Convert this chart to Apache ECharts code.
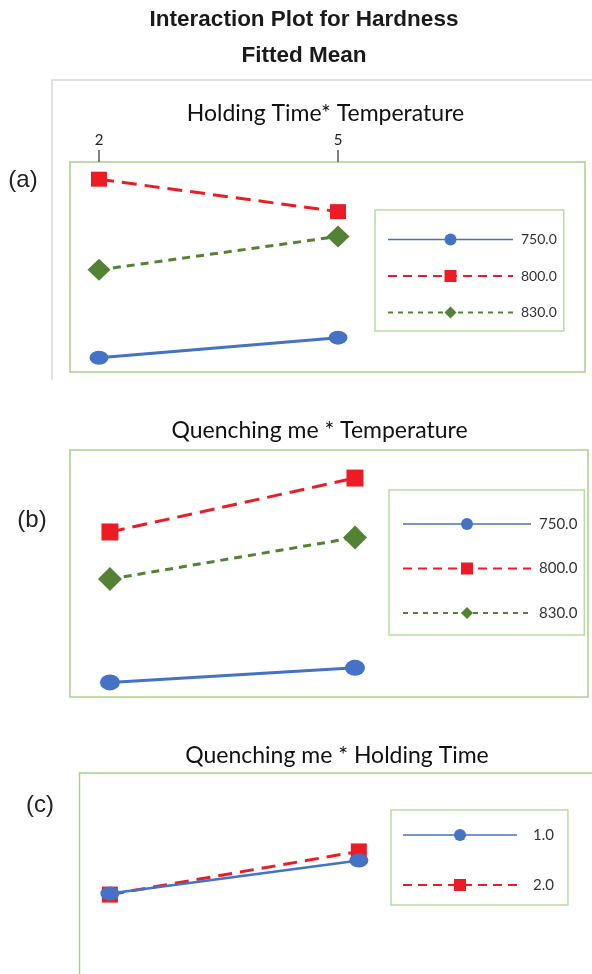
<!DOCTYPE html>
<html>
<head>
<meta charset="utf-8">
<script src="https://cdn.jsdelivr.net/npm/echarts@6/dist/echarts.min.js"></script>
<style>html,body{margin:0;padding:0;background:#fff;}#main{width:592px;height:974px;}</style>
</head>
<body>
<div id="main"></div>
<script>
// ---- data (y units arbitrary fitted-mean scale) ----
const holdingTimes = [2, 5];
const quenchMedia = [1, 2];
const temperatureNames = ['750.0', '800.0', '830.0'];
const holdingNames = ['1.0', '2.0'];
const holdingTickLabels = [2, 5];

// (a) Holding Time * Temperature
const htTemp750 = [41.5, 43.6];
const htTemp800 = [60.2, 56.8];
const htTemp830 = [50.7, 54.2];
// (b) Quenching me * Temperature
const qmTemp750 = [41.3, 42.6];
const qmTemp800 = [54.7, 59.5];
const qmTemp830 = [50.5, 54.2];
// (c) Quenching me * Holding Time
const qmHold1 = [51.4, 54.3];
const qmHold2 = [51.3, 55.1];

const BLUE = '#4472c4', RED = '#ed1c24', GREEN = '#548235';
const FRAME = '#a9d18e', LEGBORDER = '#b9dca2';
const CAL = 'Lato, "Noto Sans", sans-serif';
const ELLIPSE = 'path://M0,7A9.5,7,0,1,0,19,7A9.5,7,0,1,0,0,7Z';

function pts(xs, ys) { return xs.map((x, i) => [x, ys[i]]); }

const styles = {
  '750.0': { symbol: ELLIPSE, color: BLUE, line: { type: 'solid', width: 3 }, leg: { type: 'solid', width: 1.5 } },
  '800.0': { symbol: 'rect', color: RED, line: { type: [15, 8], width: 3 }, leg: { type: [9, 6], width: 2 } },
  '830.0': { symbol: 'diamond', color: GREEN, line: { type: [8, 6], width: 3 }, leg: { type: [5, 5], width: 2 } },
  '1.0': { symbol: ELLIPSE, color: BLUE, line: { type: 'solid', width: 2.5 }, leg: { type: 'solid', width: 1.5 } },
  '2.0': { symbol: 'rect', color: RED, line: { type: [14, 8], width: 3 }, leg: { type: [9, 6], width: 2 } }
};

function mkSeries(name, idx, xs, ys, size) {
  const s = styles[name];
  return {
    type: 'line', name: name, xAxisIndex: idx, yAxisIndex: idx,
    data: pts(xs, ys),
    symbol: s.symbol, symbolSize: size, symbolKeepAspect: false,
    lineStyle: { color: s.color, width: s.line.width, type: s.line.type },
    itemStyle: { color: s.color },
    silent: true, animation: false
  };
}

function legendData(names) {
  return names.map(n => ({ name: n, lineStyle: { color: styles[n].color, width: styles[n].leg.width, type: styles[n].leg.type } }));
}

const chart = echarts.init(document.getElementById('main'), null, { renderer: 'canvas' });

function txt(text, x, y, font, fill) {
  return { type: 'text', x: x, y: y, silent: true,
    style: { text: text, font: font, fill: fill || '#222', textAlign: 'center', align: 'center', textVerticalAlign: 'middle', verticalAlign: 'middle' } };
}

const option = {
  backgroundColor: '#ffffff',
  animation: false,
  grid: [
    { left: 70, top: 162, width: 515, height: 210, show: true, borderColor: FRAME, borderWidth: 1.5, containLabel: false, outerBoundsMode: 'none' },
    { left: 70, top: 450, width: 518, height: 247, show: true, borderColor: FRAME, borderWidth: 1.5, containLabel: false, outerBoundsMode: 'none' },
    { left: 79.5, top: 773, width: 540, height: 250, show: true, borderColor: FRAME, borderWidth: 1.5, containLabel: false, outerBoundsMode: 'none' }
  ],
  xAxis: [
    { type: 'value', gridIndex: 0, position: 'top', min: 1.636, max: 8.10,
      axisLine: { show: false }, splitLine: { show: false },
      axisTick: { show: true, customValues: holdingTickLabels, length: 12, inside: false, lineStyle: { color: '#7f7f7f', width: 2 } },
      axisLabel: { show: true, customValues: holdingTickLabels, margin: 14, color: '#222', fontFamily: CAL, fontSize: 15 } },
    { type: 'value', gridIndex: 1, min: 0.837, max: 2.951, show: false },
    { type: 'value', gridIndex: 2, min: 0.878, max: 3.047, show: false }
  ],
  yAxis: [
    { type: 'value', gridIndex: 0, min: 40, max: 62, show: false },
    { type: 'value', gridIndex: 1, min: 40, max: 62, show: false },
    { type: 'value', gridIndex: 2, min: 40, max: 62, show: false }
  ],
  legend: [
    { orient: 'vertical', left: 375, top: 210, padding: [22.5, 7, 11.5, 12], itemWidth: 125, itemHeight: 15, itemGap: 22.5,
      borderColor: LEGBORDER, borderWidth: 1.5, selectedMode: false, symbolKeepAspect: true, data: legendData(temperatureNames),
      textStyle: { fontFamily: CAL, fontSize: 14, color: '#333', padding: [0, 0, 0, 3] } },
    { orient: 'vertical', left: 389, top: 490, padding: [26.5, 7, 14.5, 13], itemWidth: 128, itemHeight: 15, itemGap: 29.5,
      borderColor: LEGBORDER, borderWidth: 1.5, selectedMode: false, symbolKeepAspect: true, data: legendData(temperatureNames),
      textStyle: { fontFamily: CAL, fontSize: 15, color: '#333', padding: [0, 0, 0, 3] } },
    { orient: 'vertical', left: 391, top: 810, padding: [17.5, 14, 12.5, 11], itemWidth: 114, itemHeight: 15, itemGap: 35,
      borderColor: LEGBORDER, borderWidth: 1.5, selectedMode: false, symbolKeepAspect: true, data: legendData(holdingNames),
      textStyle: { fontFamily: CAL, fontSize: 15, color: '#333', padding: [0, 0, 0, 11] } }
  ],
  series: [
    mkSeries('750.0', 0, holdingTimes, htTemp750, [19, 14]),
    mkSeries('800.0', 0, holdingTimes, htTemp800, [16, 15]),
    mkSeries('830.0', 0, holdingTimes, htTemp830, [23, 22]),
    mkSeries('750.0', 1, quenchMedia, qmTemp750, [20, 16]),
    mkSeries('800.0', 1, quenchMedia, qmTemp800, [17, 17]),
    mkSeries('830.0', 1, quenchMedia, qmTemp830, [24, 24]),
    mkSeries('2.0', 2, quenchMedia, qmHold2, [16, 16]),
    mkSeries('1.0', 2, quenchMedia, qmHold1, [19, 14])
  ],
  graphic: [
    { type: 'polyline', silent: true, shape: { points: [[52, 380], [52, 80], [592, 80]] }, style: { stroke: '#d6d6d6', lineWidth: 1.5, fill: null } },
    txt('Interaction Plot for Hardness', 304, 20, 'bold 22.5px "Liberation Sans", Arial, sans-serif', '#1a1a1a'),
    txt('Fitted Mean', 304, 56, 'bold 22.5px "Liberation Sans", Arial, sans-serif', '#1a1a1a'),
    txt('Holding Time* Temperature', 325.5, 114, '23px Lato, "Noto Sans", sans-serif', '#111'),
    txt('Quenching me * Temperature', 319.5, 431, '23px Lato, "Noto Sans", sans-serif', '#111'),
    txt('Quenching me * Holding Time', 337, 756, '23px Lato, "Noto Sans", sans-serif', '#111'),
    txt('(a)', 23, 180.5, '24px "Liberation Sans", Arial, sans-serif', '#222'),
    txt('(b)', 32, 520.5, '24px "Liberation Sans", Arial, sans-serif', '#222'),
    txt('(c)', 40, 805.5, '24px "Liberation Sans", Arial, sans-serif', '#222')
  ]
};
chart.setOption(option);
</script>
</body>
</html>
